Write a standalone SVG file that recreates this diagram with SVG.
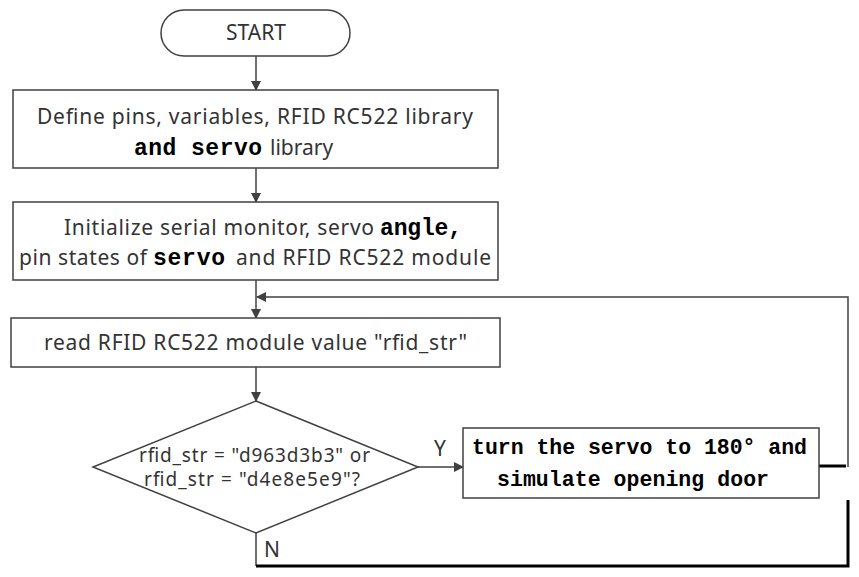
<svg xmlns="http://www.w3.org/2000/svg" width="859" height="577" viewBox="0 0 859 577">
<defs>
<marker id="arr" markerWidth="10" markerHeight="10" refX="9" refY="5" orient="auto" markerUnits="userSpaceOnUse">
<path d="M0,0 L10,5 L0,10 Z" fill="#404040"/>
</marker>
<style>
.box{fill:#fff;stroke:#404040;stroke-width:1.5}
.s{font-family:"Noto Sans","Open Sans",sans-serif;font-size:21px;fill:#333}
.d{font-family:"Noto Sans","Open Sans",sans-serif;font-size:19px;fill:#333}
.m{font-family:"Liberation Mono","DejaVu Sans Mono",monospace;font-weight:bold;fill:#000}
.c{fill:none;stroke:#404040;stroke-width:1.5}
.k{fill:none;stroke:#000;stroke-width:3}
</style>
</defs>
<rect width="859" height="577" fill="#fff"/>
<g id="connectors">
<line class="c" x1="256" y1="56" x2="256" y2="90" marker-end="url(#arr)"/>
<line class="c" x1="256" y1="168" x2="256" y2="202" marker-end="url(#arr)"/>
<line class="c" x1="256" y1="280" x2="256" y2="318" marker-end="url(#arr)"/>
<line class="c" x1="256" y1="367" x2="256" y2="401" marker-end="url(#arr)"/>
<line class="c" x1="418" y1="467" x2="463" y2="467" marker-end="url(#arr)"/>
<polyline class="c" points="848,467 848,297 257,297" marker-end="url(#arr)"/>
<line class="k" x1="819" y1="466" x2="846" y2="466"/>
<line class="c" x1="256" y1="533" x2="256" y2="566"/>
<polyline class="k" points="256,566 848,566 848,500"/>
<text class="s" x="434" y="456">Y</text>
<text class="s" x="264" y="557">N</text>
</g>
<g id="start">
<rect class="box" x="161" y="10" width="189" height="46" rx="23"/>
<text class="s" x="256" y="40" text-anchor="middle">START</text>
</g>
<g id="define">
<rect class="box" x="13" y="90" width="485" height="78"/>
<text class="s" x="37" y="124" textLength="436">Define pins, variables, RFID RC522  library</text>
<text class="m" x="134" y="155" font-size="23" textLength="128">and servo</text>
<text class="s" x="270" y="155">library</text>
</g>
<g id="init">
<rect class="box" x="13" y="202" width="485" height="78"/>
<text class="s" x="64" y="235" textLength="310">Initialize serial monitor, servo</text>
<text class="m" x="380" y="235" font-size="23" textLength="82">angle,</text>
<text class="s" x="19" y="265" textLength="128">pin states of</text>
<text class="m" x="153" y="265" font-size="23" textLength="72">servo</text>
<text class="s" x="236" y="265" textLength="255">and RFID RC522 module</text>
</g>
<g id="read">
<rect class="box" x="11" y="318" width="489" height="49"/>
<text class="s" x="44" y="350" textLength="423">read RFID RC522 module value "rfid_str"</text>
</g>
<g id="decision">
<polygon class="box" points="256,401 418,467 256,533 93,467"/>
<text class="d" x="139" y="462" textLength="231">rfid_str = "d963d3b3" or</text>
<text class="d" x="144" y="486" textLength="216">rfid_str = "d4e8e5e9"?</text>
</g>
<g id="turn">
<rect class="box" x="463" y="428" width="356" height="70"/>
<text class="m" x="472" y="454" font-size="21.5" textLength="335">turn the servo to 180° and</text>
<text class="m" x="497" y="486" font-size="21.5" textLength="272">simulate opening door</text>
</g>
</svg>
